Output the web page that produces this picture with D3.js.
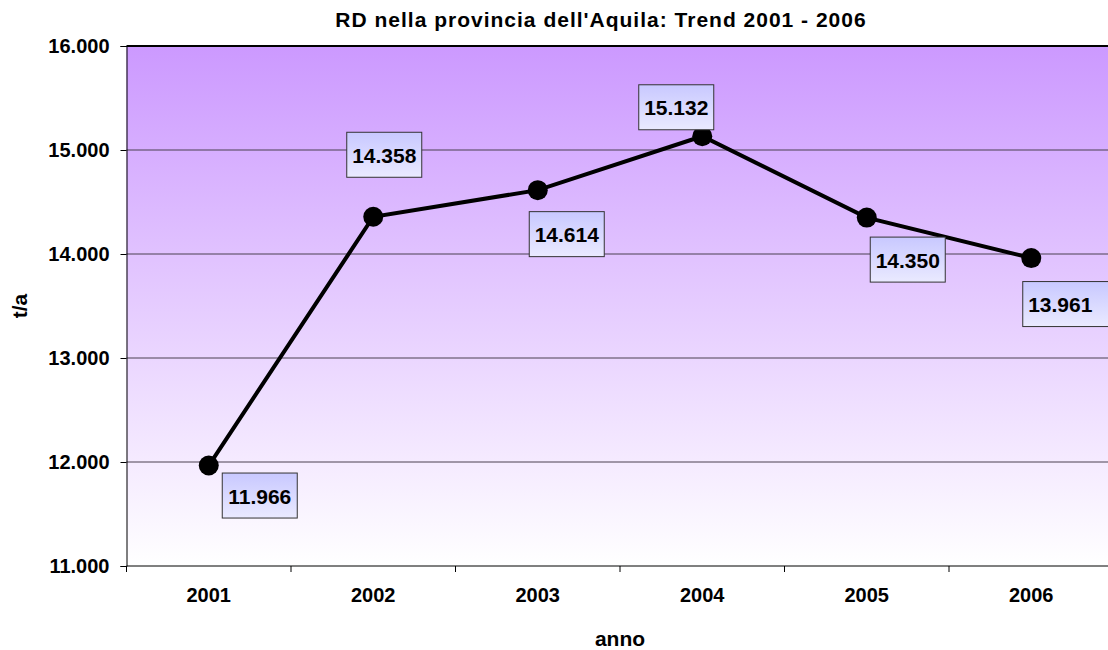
<!DOCTYPE html>
<html>
<head>
    <meta charset="UTF-8">
    <title>RD nella provincia dell'Aquila</title>
    <script src="https://d3js.org/d3.v7.min.js"></script>
    <style>
        body {
            margin: 0;
            padding: 0;
            background: #fff;
            overflow: hidden;
        }
        text {
            font-family: "Liberation Sans", Arial, sans-serif;
            font-weight: bold;
            fill: #000;
        }
    </style>
</head>
<body>
    <svg id="chart" width="1108" height="650"></svg>

    <script>
        const years = ["2001", "2002", "2003", "2004", "2005", "2006"];
        const values = [11966, 14358, 14614, 15132, 14350, 13961];
        const yTicks = [11000, 12000, 13000, 14000, 15000, 16000];

        // where each data label box sits, relative to its point
        const labelOffsets = [[13, 7], [-27, -85], [-9, 21], [-64, -52], [3, 19], [-9, 23]];

        const data = years.map((y, i) => ({ year: y, value: values[i] }));

        const it = d3.formatLocale({ decimal: ",", thousands: ".", grouping: [3], currency: ["", "€"] });
        const fmt = it.format(",.0f");

        const margin = { top: 46, left: 126.5, right: 1113.5, bottom: 566 };

        const svg = d3.select("#chart");

        const defs = svg.append("defs");
        const bg = defs.append("linearGradient")
            .attr("id", "bg").attr("x1", 0).attr("y1", 0).attr("x2", 0).attr("y2", 1);
        bg.append("stop").attr("offset", "0%").attr("stop-color", "#cc99ff");
        bg.append("stop").attr("offset", "100%").attr("stop-color", "#ffffff");

        const lab = defs.append("linearGradient")
            .attr("id", "lab").attr("x1", 0).attr("y1", 0).attr("x2", 0).attr("y2", 1);
        lab.append("stop").attr("offset", "0%").attr("stop-color", "#c8c8ff");
        lab.append("stop").attr("offset", "100%").attr("stop-color", "#eaeaff");

        const x = d3.scaleBand()
            .domain(years)
            .range([margin.left, margin.right])
            .padding(0);

        const y = d3.scaleLinear()
            .domain([11000, 16000])
            .range([margin.bottom, margin.top]);

        // plot area
        svg.append("rect")
            .attr("x", margin.left)
            .attr("y", margin.top)
            .attr("width", margin.right - margin.left)
            .attr("height", margin.bottom - margin.top)
            .attr("fill", "url(#bg)");

        // gridlines
        svg.append("g")
            .selectAll("line")
            .data(yTicks.slice(1, -1))
            .enter()
            .append("line")
            .attr("x1", margin.left)
            .attr("x2", margin.right)
            .attr("y1", d => y(d))
            .attr("y2", d => y(d))
            .attr("stroke", "#4a4050")
            .attr("stroke-width", 1);

        // top border
        svg.append("line")
            .attr("x1", margin.left).attr("x2", margin.right)
            .attr("y1", margin.top).attr("y2", margin.top)
            .attr("stroke", "#000").attr("stroke-width", 2);

        // y axis
        const yAxis = svg.append("g")
            .attr("transform", `translate(${margin.left},0)`)
            .call(d3.axisLeft(y).tickValues(yTicks).tickFormat(fmt).tickSize(6).tickPadding(11));
        yAxis.selectAll("text")
            .style("font-size", "20px")
            .attr("fill", "#000");
        yAxis.selectAll("line, path").attr("stroke", "#000");

        // x axis
        const xAxis = svg.append("g")
            .attr("transform", `translate(0,${margin.bottom})`)
            .call(d3.axisBottom(x).tickSize(0).tickPadding(22));
        xAxis.selectAll("text")
            .style("font-size", "20px")
            .attr("fill", "#000");
        xAxis.select("path").attr("stroke", "#000").attr("d", `M${margin.left},0H${margin.right}`);

        // tick marks between categories
        xAxis.selectAll(".sep")
            .data(years)
            .enter()
            .append("line")
            .attr("class", "sep")
            .attr("x1", d => x(d))
            .attr("x2", d => x(d))
            .attr("y1", 0)
            .attr("y2", 6)
            .attr("stroke", "#000");

        // title
        svg.append("text")
            .attr("x", 601)
            .attr("y", 27)
            .attr("text-anchor", "middle")
            .style("font-size", "21px")
            .style("letter-spacing", "1px")
            .text("RD nella provincia dell'Aquila: Trend 2001 - 2006");

        // axis titles
        svg.append("text")
            .attr("x", (margin.left + margin.right) / 2)
            .attr("y", 646)
            .attr("text-anchor", "middle")
            .style("font-size", "21px")
            .text("anno");

        svg.append("text")
            .attr("transform", "rotate(-90)")
            .attr("x", -306)
            .attr("y", 27)
            .attr("text-anchor", "middle")
            .style("font-size", "21px")
            .text("t/a");

        // line
        const line = d3.line()
            .x(d => x(d.year) + x.bandwidth() / 2)
            .y(d => y(d.value));

        svg.append("path")
            .datum(data)
            .attr("d", line)
            .attr("fill", "none")
            .attr("stroke", "#000")
            .attr("stroke-width", 4);

        svg.selectAll(".dot")
            .data(data)
            .enter()
            .append("circle")
            .attr("class", "dot")
            .attr("cx", d => x(d.year) + x.bandwidth() / 2)
            .attr("cy", d => y(d.value))
            .attr("r", 10)
            .attr("fill", "#000");

        // data labels
        const labels = svg.selectAll(".lbl")
            .data(data)
            .enter()
            .append("g")
            .attr("class", "lbl")
            .attr("transform", (d, i) => {
                const px = x(d.year) + x.bandwidth() / 2 + labelOffsets[i][0];
                const py = y(d.value) + labelOffsets[i][1];
                return `translate(${px},${py})`;
            });

        labels.append("rect")
            .attr("x", 0.5)
            .attr("y", 0.5)
            .attr("width", (d, i) => i === years.length - 1 ? 90 : 75)
            .attr("height", 45)
            .attr("fill", "url(#lab)")
            .attr("stroke", "#333")
            .attr("stroke-width", 1);

        labels.append("text")
            .attr("x", 38)
            .attr("y", 31)
            .attr("text-anchor", "middle")
            .style("font-size", "21px")
            .text(d => fmt(d.value));
    </script>
</body>
</html>
